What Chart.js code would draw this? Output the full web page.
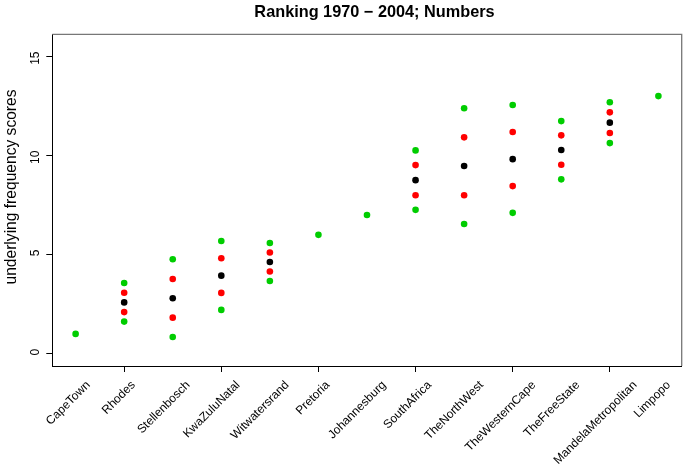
<!DOCTYPE html>
<html>
<head>
<meta charset="utf-8">
<script src="https://cdn.jsdelivr.net/npm/chart.js@4/dist/chart.umd.min.js"></script>
<style>
  html, body { margin: 0; padding: 0; background: #ffffff; }
  #c { display: block; }
</style>
</head>
<body>
<canvas id="c" width="685" height="469"></canvas>
<script>
// ---- data ----
const categories = ["CapeTown", "Rhodes", "Stellenbosch", "KwaZuluNatal", "Witwatersrand",
  "Pretoria", "Johannesburg", "SouthAfrica", "TheNorthWest", "TheWesternCape",
  "TheFreeState", "MandelaMetropolitan", "Limpopo"];
// categories with a single score only show one (green) point
const centerScores = [null, 2.59, 2.80, 3.94, 4.63, null, null, 8.76, 9.47, 9.82, 10.28, 11.66, null];
const redUpper     = [null, 3.08, 3.77, 4.82, 5.11, null, null, 9.52, 10.92, 11.19, 11.02, 12.18, null];
const redLower     = [null, 2.10, 1.82, 3.07, 4.15, null, null, 8.00, 8.00, 8.46, 9.54, 11.14, null];
const greenUpper   = [1.0, 3.57, 4.77, 5.69, 5.59, 6.0, 7.0, 10.26, 12.39, 12.55, 11.74, 12.69, 13.0];
const greenLower   = [null, 1.62, 0.84, 2.21, 3.67, null, null, 7.26, 6.55, 7.11, 8.80, 10.63, null];
const yTicks = [0, 5, 10, 15];
const titleText = "Ranking 1970 \u2212 2004; Numbers";
const yTitleText = "underlying frequency scores";

const toPoints = arr => arr.map((v, i) => ({ x: i + 1, y: v })).filter(p => p.y !== null);
const FONT = "'Liberation Sans', Arial, Helvetica, sans-serif";
const GREEN = "#00CD00", RED = "#FF0000", BLACK = "#000000";

function ds(label, arr, color) {
  return {
    label, data: toPoints(arr),
    backgroundColor: color, borderColor: color,
    pointRadius: 3.3, pointBorderWidth: 0, pointHoverRadius: 3.3,
    showLine: false
  };
}

// box (top/right edges), titles and rotated category labels
const decorPlugin = {
  id: 'decorPlugin',
  afterDraw(chart) {
    const { ctx, chartArea: a } = chart;
    const xs = chart.scales.x;
    ctx.save();
    ctx.strokeStyle = '#777777';
    ctx.lineWidth = 1.3;
    ctx.beginPath();
    ctx.moveTo(a.left, a.top);
    ctx.lineTo(a.right, a.top);
    ctx.lineTo(a.right, a.bottom);
    ctx.stroke();

    ctx.fillStyle = BLACK;
    // main title
    ctx.font = "bold 16.3px " + FONT;
    ctx.textAlign = 'center';
    ctx.textBaseline = 'alphabetic';
    ctx.fillText(titleText, 374.5, 16.5);

    // y axis title
    ctx.save();
    ctx.font = "15.6px " + FONT;
    ctx.translate(15.7, 187);
    ctx.rotate(-Math.PI / 2);
    ctx.textAlign = 'center';
    ctx.fillText(yTitleText, 0, 0);
    ctx.restore();

    // category labels at 45 degrees
    ctx.font = "12px " + FONT;
    categories.forEach((lab, i) => {
      const px = xs.getPixelForValue(i + 1);
      const w = ctx.measureText(lab).width;
      ctx.save();
      ctx.translate(px + 2.2 + 0.227 * w, a.bottom + 19.5);
      ctx.rotate(-Math.PI / 4);
      ctx.textAlign = 'right';
      ctx.textBaseline = 'alphabetic';
      ctx.fillText(lab, 0, 0);
      ctx.restore();
    });
    ctx.restore();
  }
};

new Chart(document.getElementById('c'), {
  type: 'scatter',
  data: {
    datasets: [
      ds('green upper', greenUpper, GREEN),
      ds('green lower', greenLower, GREEN),
      ds('red upper', redUpper, RED),
      ds('red lower', redLower, RED),
      ds('centre', centerScores, BLACK)
    ]
  },
  options: {
    responsive: false,
    animation: false,
    devicePixelRatio: 1,
    layout: { padding: { left: 0, right: 1.7, top: 34.3, bottom: 0 } },
    plugins: {
      legend: { display: false },
      tooltip: { enabled: false },
      title: { display: false }
    },
    scales: {
      x: {
        type: 'linear', min: 0.52, max: 13.48,
        afterFit(s) { s.height = 103; },
        border: { display: true, color: BLACK, width: 1 },
        grid: {
          display: true, drawOnChartArea: false, drawTicks: true, tickLength: 6,
          tickColor: c => (c.tick && c.tick.value % 2 === 0) ? BLACK : 'rgba(0,0,0,0)'
        },
        ticks: {
          display: false, stepSize: 1, includeBounds: false, autoSkip: false,
          callback: v => categories[v - 1] ?? ''
        }
      },
      y: {
        type: 'linear', min: -0.62, max: 16.12,
        afterFit(s) { s.width = 52.3; },
        border: { display: true, color: BLACK, width: 1 },
        grid: { display: true, drawOnChartArea: false, drawTicks: true, tickLength: 6, tickColor: BLACK },
        afterBuildTicks(s) { s.ticks = yTicks.map(v => ({ value: v })); },
        ticks: {
          autoSkip: false, minRotation: 90, maxRotation: 90,
          padding: 10.8, labelOffset: -5,
          color: BLACK, font: { family: FONT, size: 12 }
        }
      }
    }
  },
  plugins: [decorPlugin]
});
</script>
</body>
</html>
